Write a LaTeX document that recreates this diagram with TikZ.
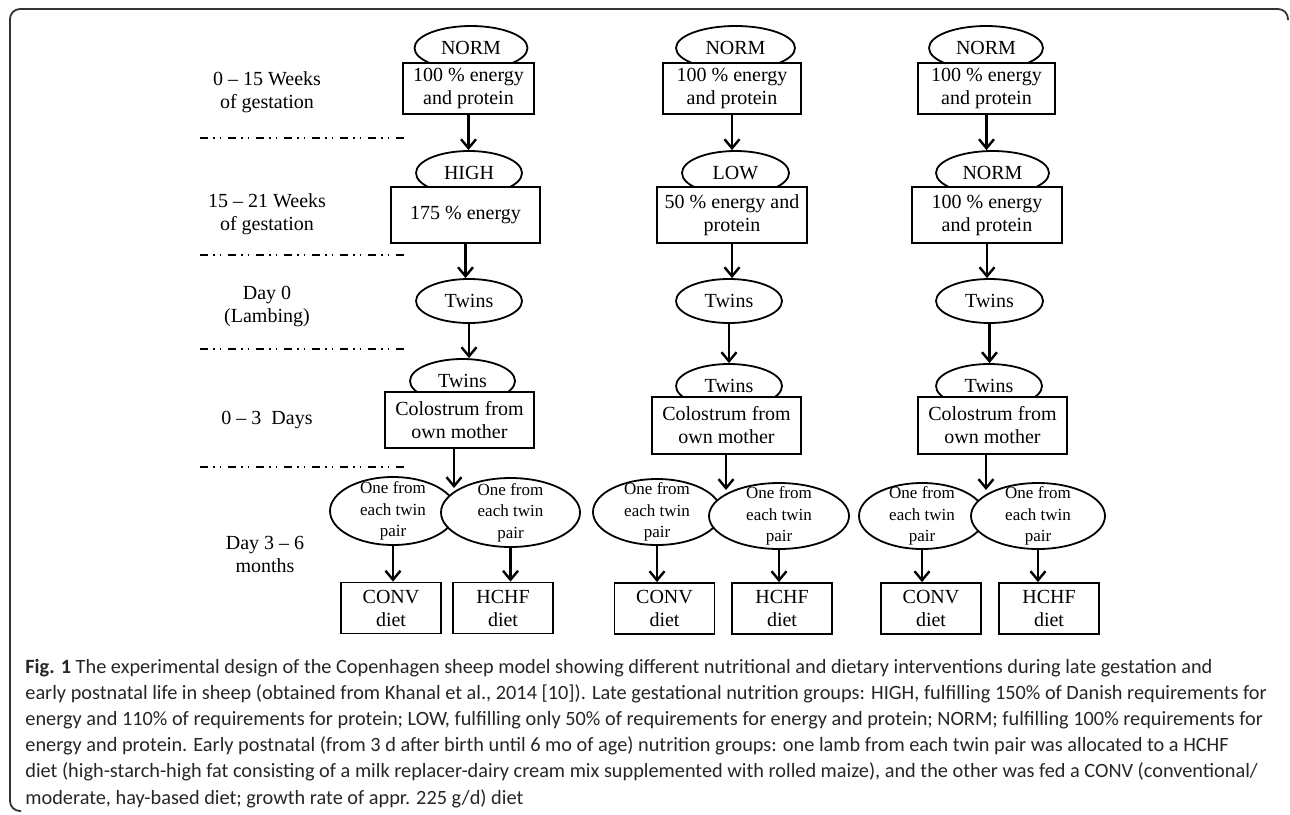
\documentclass[tikz,border=0pt]{standalone}
\usepackage{fontspec}
\setmainfont{Liberation Serif}
\newfontfamily\capfont{Carlito}
\usetikzlibrary{shapes.geometric,arrows.meta}

\begin{document}
\begin{tikzpicture}[x=0.5pt, y=-0.5pt, >={Straight Barb[length=4.5pt,width=7.5pt]},
  font=\fontsize{10}{11.5}\selectfont,
  oval/.style={ellipse, draw, line width=0.9pt, fill=white, inner sep=0pt, minimum height=22pt},
  pick/.style={ellipse, draw, line width=0.9pt, fill=white, inner sep=0pt, minimum height=33pt},
  box/.style={rectangle, draw, line width=0.9pt, fill=white, align=center, inner sep=0pt, minimum height=28pt},
  diet/.style={box, minimum width=50pt, minimum height=25.5pt},
  flow/.style={->, line width=1.2pt},
  phase/.style={align=center},
  divider/.style={line width=1.2pt, dash pattern=on 4pt off 2.6pt on 0.8pt off 2.4pt on 0.8pt off 3.4pt},
  pairtext/.style={align=center, font=\fontsize{8.5}{10.75}\selectfont}]
  \useasboundingbox (0,0) rectangle (1290,814);
  \draw[line width=0.9pt, black!80, rounded corners=5pt] (1288,20) -- (1288,9) -- (10,9) -- (10,811) -- (21,811);

  \node[phase] (p1) at (267,92) {0 – 15 Weeks\\of gestation};
  \node[phase] (p2) at (267,214) {15 – 21 Weeks\\of gestation};
  \node[phase] (p3) at (267,307) {Day 0\\(Lambing)};
  \node[phase] (p4) at (267,420) {0 – 3~~Days};
  \node[phase] (p5) at (265,554) {Day 3 – 6\\months};
  \draw[divider] (200,138) -- (405,138);
  \draw[divider] (200,255) -- (405,255);
  \draw[divider] (200,349) -- (405,349);
  \draw[divider] (200,467) -- (405,467);

  % HIGH
  \node[oval, minimum width=56.5pt] (n1a) at (471,48) {NORM};
  \node[box, minimum width=65.5pt, minimum height=25.5pt] (b1a) at (468.5,88.5) {100 \% energy\\and protein};
  \node[oval, minimum width=53pt] (n1b) at (469,173) {HIGH};
  \node[box, minimum width=74.5pt] (b1b) at (465.5,215) {175 \% energy};
  \node[oval, minimum width=53pt] (t1a) at (469,301) {Twins};
  \node[oval, minimum width=52.5pt] (t1b) at (462.5,381) {Twins};
  \node[box, minimum width=74.5pt] (b1c) at (459.5,420) {Colostrum from\\own mother};
  \node[pick, minimum width=63pt, minimum height=34pt, label={[pairtext]center:One from\\each twin\\pair}] (e1l) at (393,511) {};
  \node[pick, minimum width=69.5pt, minimum height=34.5pt, label={[pairtext]center:One from\\each twin\\pair}] (e1r) at (510.5,512.5) {};
  \node[diet] (d1l) at (391,608) {CONV\\diet};
  \node[diet] (d1r) at (503,608) {HCHF\\diet};
  \coordinate (j1) at (454,488);
  \draw[flow] (b1a) -- (b1a |- n1b.north);
  \draw[flow] (b1b) -- (b1b |- t1a.north);
  \draw[flow] (t1a) -- (t1a |- t1b.north);
  \draw[flow] (b1c.south -| j1) -- (j1);
  \draw[flow] (e1l) -- (e1l |- d1l.north);
  \draw[flow] (e1r) -- (e1r |- d1r.north);

  % LOW
  \node[oval, minimum width=59.5pt] (n2a) at (735.5,48) {NORM};
  \node[box, minimum width=69pt, minimum height=25.5pt] (b2a) at (732,88.5) {100 \% energy\\and protein};
  \node[oval, minimum width=53.5pt] (n2b) at (735.5,173) {LOW};
  \node[box, minimum width=75pt] (b2b) at (732,215) {50 \% energy and\\protein};
  \node[oval, minimum width=53pt] (t2a) at (729,301) {Twins};
  \node[oval, minimum width=53pt] (t2b) at (729,386) {Twins};
  \node[box, minimum width=74.5pt, minimum height=28.5pt] (b2c) at (726.5,425.5) {Colostrum from\\own mother};
  \node[pick, minimum width=64pt, label={[pairtext]center:One from\\each twin\\pair}] (e2l) at (657,512) {};
  \node[pick, minimum width=70pt, label={[pairtext]center:One from\\each twin\\pair}] (e2r) at (779,516) {};
  \node[diet] (d2l) at (664.5,608.5) {CONV\\diet};
  \node[diet] (d2r) at (782,608.5) {HCHF\\diet};
  \coordinate (j2) at (726,490);
  \draw[flow] (b2a) -- (b2a |- n2b.north);
  \draw[flow] (b2b) -- (b2b |- t2a.north);
  \draw[flow] (t2a) -- (t2a |- t2b.north);
  \draw[flow] (b2c.south -| j2) -- (j2);
  \draw[flow] (e2l) -- (e2l |- d2l.north);
  \draw[flow] (e2r) -- (e2r |- d2r.north);

  % NORM
  \node[oval, minimum width=57pt] (n3a) at (986,48) {NORM};
  \node[box, minimum width=68.5pt, minimum height=25.5pt] (b3a) at (986.5,88.5) {100 \% energy\\and protein};
  \node[oval, minimum width=56.5pt] (n3b) at (992.5,173) {NORM};
  \node[box, minimum width=75pt] (b3b) at (987,215) {100 \% energy\\and protein};
  \node[oval, minimum width=53.5pt] (t3a) at (989.5,301) {Twins};
  \node[oval, minimum width=53pt] (t3b) at (989,386) {Twins};
  \node[box, minimum width=74.5pt, minimum height=28.5pt] (b3c) at (992.5,425.5) {Colostrum from\\own mother};
  \node[pick, minimum width=63pt, label={[pairtext]center:One from\\each twin\\pair}] (e3l) at (922,516) {};
  \node[pick, minimum width=67pt, label={[pairtext]center:One from\\each twin\\pair}] (e3r) at (1038,516) {};
  \node[diet] (d3l) at (931,608.5) {CONV\\diet};
  \node[diet] (d3r) at (1049,608.5) {HCHF\\diet};
  \coordinate (j3) at (986,490);
  \draw[flow] (b3a) -- (b3a |- n3b.north);
  \draw[flow] (b3b) -- (b3b |- t3a.north);
  \draw[flow] (t3a) -- (t3a |- t3b.north);
  \draw[flow] (b3c.south -| j3) -- (j3);
  \draw[flow] (e3l) -- (e3l |- d3l.north);
  \draw[flow] (e3r) -- (e3r |- d3r.north);

  \node[anchor=base west, align=left, inner sep=0pt, text=black!85,
    font=\capfont\fontsize{10.15}{13.1}\selectfont] (caption) at (25,804)
    {\textbf{Fig. 1} The experimental design of the Copenhagen sheep model showing different nutritional and dietary interventions during late gestation and\\
     early postnatal life in sheep (obtained from Khanal et al., 2014 [10]). Late gestational nutrition groups: HIGH, fulfilling 150\% of Danish requirements for\\
     energy and 110\% of requirements for protein; LOW, fulfilling only 50\% of requirements for energy and protein; NORM; fulfilling 100\% requirements for\\
     energy and protein. Early postnatal (from 3 d after birth until 6 mo of age) nutrition groups: one lamb from each twin pair was allocated to a HCHF\\
     diet (high-starch-high fat consisting of a milk replacer-dairy cream mix supplemented with rolled maize), and the other was fed a CONV (conventional/\\
     moderate, hay-based diet; growth rate of appr. 225 g/d) diet};
\end{tikzpicture}
\end{document}
